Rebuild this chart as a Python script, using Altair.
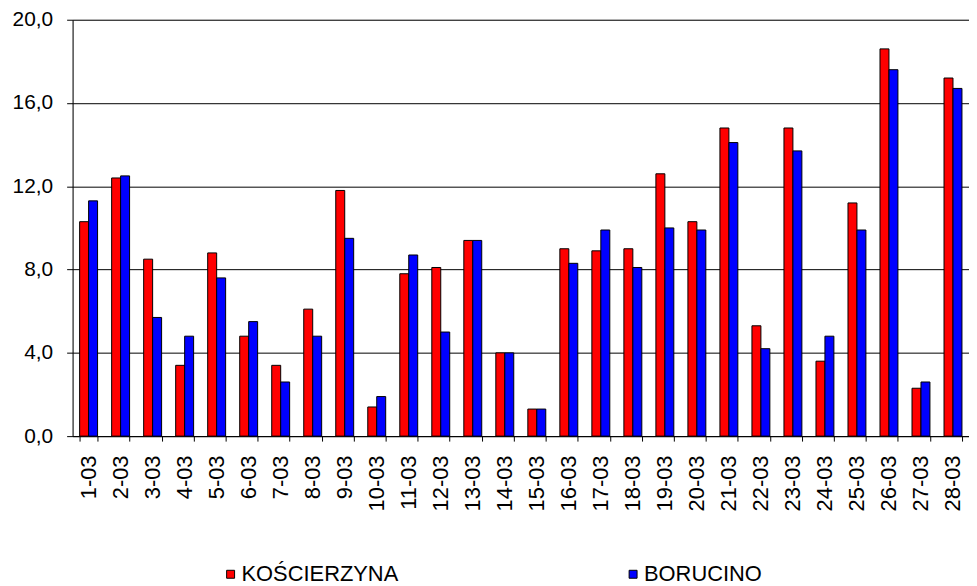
import altair as alt
import pandas as pd

dates = ["1-03", "2-03", "3-03", "4-03", "5-03", "6-03", "7-03", "8-03", "9-03", "10-03",
         "11-03", "12-03", "13-03", "14-03", "15-03", "16-03", "17-03", "18-03", "19-03", "20-03",
         "21-03", "22-03", "23-03", "24-03", "25-03", "26-03", "27-03", "28-03"]
series_names = ["KOŚCIERZYNA", "BORUCINO"]
koscierzyna = [10.3, 12.4, 8.5, 3.4, 8.8, 4.8, 3.4, 6.1, 11.8, 1.4,
               7.8, 8.1, 9.4, 4.0, 1.3, 9.0, 8.9, 9.0, 12.6, 10.3,
               14.8, 5.3, 14.8, 3.6, 11.2, 18.6, 2.3, 17.2]
borucino = [11.3, 12.5, 5.7, 4.8, 7.6, 5.5, 2.6, 4.8, 9.5, 1.9,
            8.7, 5.0, 9.4, 4.0, 1.3, 8.3, 9.9, 8.1, 10.0, 9.9,
            14.1, 4.2, 13.7, 4.8, 9.9, 17.6, 2.6, 16.7]
y_ticks = [0, 4, 8, 12, 16, 20]
colors = ["#ff0000", "#0000ff"]

rows = []
for d, a, b in zip(dates, koscierzyna, borucino):
    rows.append({"date": d, "series": series_names[0], "value": a})
    rows.append({"date": d, "series": series_names[1], "value": b})
df = pd.DataFrame(rows)

FONT = "Liberation Sans"

chart = alt.Chart(df).mark_bar(stroke="black", strokeWidth=1).encode(
    x=alt.X("date:N", sort=dates,
            scale=alt.Scale(paddingInner=0.44, paddingOuter=0.22),
            axis=alt.Axis(title=None, labelAngle=-90, tickBand="extent",
                          labelFont=FONT, labelFontSize=22, labelColor="black",
                          labelPadding=14, tickSize=5, tickColor="black",
                          domainColor="black", grid=False)),
    xOffset=alt.XOffset("series:N", sort=series_names,
                        scale=alt.Scale(paddingInner=0, paddingOuter=0)),
    y=alt.Y("value:Q",
            scale=alt.Scale(domain=[0, 20], nice=False),
            axis=alt.Axis(title=None, values=y_ticks,
                          labelExpr="replace(format(datum.value, '.1f'), '.', ',')",
                          labelFont=FONT, labelFontSize=21, labelColor="black",
                          labelPadding=14, tickSize=6, tickColor="black",
                          domainColor="black", grid=True, gridColor="black",
                          gridOpacity=1, gridWidth=1)),
    color=alt.Color("series:N", sort=series_names,
                    scale=alt.Scale(domain=series_names, range=colors),
                    legend=alt.Legend(title=None, orient="none", legendX=148, legendY=547,
                                      direction="horizontal", columns=2, columnPadding=225,
                                      symbolType="square", symbolSize=64,
                                      symbolStrokeColor="black", symbolStrokeWidth=1,
                                      symbolOpacity=1, labelOffset=0,
                                      labelFont=FONT, labelFontSize=22, labelColor="black",
                                      labelLimit=400)),
).properties(
    width=902,
    height=419,
    autosize=alt.AutoSizeParams(type="none"),
    padding={"left": 65, "top": 10, "right": 0, "bottom": 149},
).configure_view(
    stroke=None
).configure(background="white")

chart.save("out.html", embed_options={"renderer": "svg", "actions": False})
